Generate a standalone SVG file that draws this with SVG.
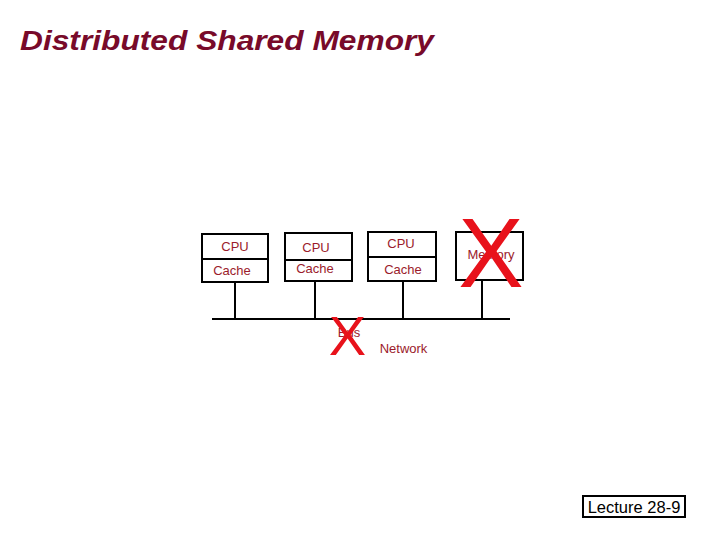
<svg xmlns="http://www.w3.org/2000/svg" width="720" height="540" viewBox="0 0 720 540">
<style>
.box{fill:#fff;stroke:#000;stroke-width:2}
.ln{stroke:#000;stroke-width:2;fill:none}
.lbl{font-family:"Liberation Sans",Arial,sans-serif;font-size:13px;fill:#9B1B2B;text-anchor:middle}
.bigx{font-family:"Liberation Sans",Arial,sans-serif;fill:#E8121B;text-anchor:middle}
</style>
<rect width="720" height="540" fill="#fff"/>
<text x="20" y="50" font-family="'Liberation Sans',Arial,sans-serif" font-size="28" font-weight="bold" font-style="italic" fill="#780A2A" textLength="414" lengthAdjust="spacingAndGlyphs">Distributed Shared Memory</text>
<g id="connectors">
<line class="ln" x1="212" y1="319" x2="510" y2="319"/>
<line class="ln" x1="235" y1="282" x2="235" y2="320"/>
<line class="ln" x1="315" y1="281" x2="315" y2="319"/>
<line class="ln" x1="403" y1="281" x2="403" y2="319"/>
<line class="ln" x1="482" y1="280" x2="482" y2="319"/>
</g>
<g id="node1">
<rect class="box" x="202" y="234" width="66" height="48"/>
<line class="ln" x1="202" y1="259" x2="268" y2="259"/>
<text class="lbl" x="235" y="250.5">CPU</text>
<text class="lbl" x="232" y="275">Cache</text>
</g>
<g id="node2">
<rect class="box" x="285" y="233" width="67" height="48"/>
<line class="ln" x1="285" y1="260" x2="353" y2="260"/>
<text class="lbl" x="316" y="251.5">CPU</text>
<text class="lbl" x="315" y="272.5">Cache</text>
</g>
<g id="node3">
<rect class="box" x="368" y="232" width="68" height="49"/>
<line class="ln" x1="368" y1="257" x2="437" y2="257"/>
<text class="lbl" x="401" y="248">CPU</text>
<text class="lbl" x="403" y="274">Cache</text>
</g>
<g id="memory">
<rect class="box" x="456" y="232" width="67" height="48"/>
<text class="lbl" x="491" y="259" font-size="13.8">Memory</text>
<text class="bigx" x="491" y="287" font-size="98">X</text>
</g>
<g id="bus">
<text class="lbl" x="349" y="337" font-size="16">Bus</text>
<text class="bigx" x="347.5" y="355" font-size="56">X</text>
</g>
<g id="network">
<text class="lbl" x="403.5" y="353" font-size="14">Network</text>
</g>
<g id="footer">
<rect x="583" y="496" width="102" height="21" fill="#fff" stroke="#000" stroke-width="2"/>
<text x="634" y="513" font-family="'Liberation Sans',Arial,sans-serif" font-size="16.5" fill="#000" text-anchor="middle">Lecture 28-9</text>
</g>
</svg>
